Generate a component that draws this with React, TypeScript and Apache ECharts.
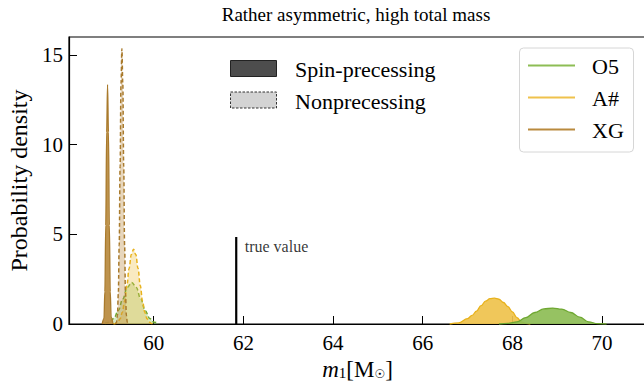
import React, { useEffect, useRef } from "react";
import * as echarts from "echarts";

// ---- data ----
const xTicks = [60, 62, 64, 66, 68, 70];
const yTicks = [0, 5, 10, 15];

// Spin-precessing
const o5SpinX = [67.7, 67.9, 68.1, 68.3, 68.5, 68.7, 68.9, 69.1, 69.3, 69.5, 69.7, 69.9, 70.1];
const o5SpinY = [0.0, 0.04, 0.12, 0.36, 0.64, 0.84, 0.89, 0.83, 0.64, 0.38, 0.12, 0.02, 0.0];
const aSpinX = [66.6, 66.8, 67.0, 67.1, 67.2, 67.3, 67.4, 67.5, 67.6, 67.7, 67.8, 67.9, 68.0, 68.1, 68.2, 68.3, 68.4];
const aSpinY = [0.0, 0.06, 0.3, 0.48, 0.72, 1.02, 1.27, 1.41, 1.44, 1.38, 1.2, 0.97, 0.68, 0.36, 0.12, 0.03, 0.0];
const xgSpinX = [58.85, 58.89, 58.91, 58.93, 58.95, 58.97, 58.99, 59.01, 59.03, 59.05, 59.09];
const xgSpinY = [0, 0.3, 1.8, 5.5, 10.7, 13.35, 10.7, 5.5, 1.8, 0.4, 0];

// Nonprecessing
const o5NonX = [58.91, 59.01, 59.11, 59.21, 59.31, 59.41, 59.51, 59.61, 59.71, 59.81, 59.91, 60.01, 60.11];
const o5NonY = [0.03, 0.1, 0.31, 0.75, 1.4, 2.04, 2.31, 2.04, 1.4, 0.75, 0.31, 0.1, 0.03];
const aNonX = [59.1, 59.15, 59.2, 59.25, 59.3, 59.35, 59.4, 59.45, 59.5, 59.55, 59.6, 59.65, 59.7, 59.75, 59.8, 59.85, 59.9, 59.95, 60.0];
const aNonY = [0, 0.03, 0.11, 0.29, 0.66, 1.28, 2.14, 3.1, 3.87, 4.17, 3.87, 3.1, 2.14, 1.28, 0.66, 0.29, 0.11, 0.03, 0];
const xgNonX = [59.15, 59.17, 59.19, 59.21, 59.23, 59.25, 59.27, 59.29, 59.31, 59.33, 59.35, 59.37, 59.39, 59.41, 59.43];
const xgNonY = [0, 0.1, 0.48, 1.67, 4.4, 8.8, 13.4, 15.35, 13.4, 8.8, 4.4, 1.67, 0.48, 0.1, 0];

const trueValueX = [61.84, 61.84];
const trueValueY = [0, 4.85];

const FONT = "Liberation Serif";
const C_O5 = { line: "#6fa832", fill: "#8dbd55" };
const C_A = { line: "#e8b21c", fill: "#efc24c" };
const C_XG = { line: "#a97a2c", fill: "#b98a3e" };

function pairs(xs: number[], ys: number[]) {
  return xs.map((x, i) => [x, ys[i]]);
}

export default function App() {
  const ref = useRef<HTMLDivElement>(null);
  useEffect(() => {
    if (!ref.current) return;
    const chart = echarts.init(ref.current, null, { renderer: "svg" });

    const spin = (name: string, xs: number[], ys: number[], c: { line: string; fill: string }, z: number) => ({
      type: "line",
      name,
      data: pairs(xs, ys),
      showSymbol: false,
      smooth: 0.4,
      smoothMonotone: "x",
      z,
      lineStyle: { color: c.line, width: 1.3 },
      areaStyle: { color: c.fill, opacity: 0.92 },
      silent: true,
    });
    const nonp = (name: string, xs: number[], ys: number[], c: { line: string; fill: string }, z: number) => ({
      type: "line",
      name,
      data: pairs(xs, ys),
      showSymbol: false,
      smooth: 0.4,
      smoothMonotone: "x",
      z,
      lineStyle: { color: c.line, width: 1.5, type: [4, 2.5] },
      areaStyle: { color: c.fill, opacity: 0.35 },
      silent: true,
    });

    const tickRich = { t: { fontFamily: FONT, fontSize: 21, color: "#000" } };

    const option: any = {
      animation: false,
      textStyle: { fontFamily: FONT },
      grid: {
        left: 69,
        top: 37,
        right: -2,
        bottom: 57,
        show: true,
        borderColor: "#000",
        borderWidth: 1.2,
        backgroundColor: "transparent",
        containLabel: false,
        outerBoundsMode: "none",
      },
      xAxis: {
        type: "value",
        min: 58.11,
        max: 70.98,
        name: "{m|m}{s|1}{b|[M}{o|☉}{b|]}",
        nameLocation: "middle",
        nameGap: 20,
        nameTextStyle: {
          lineHeight: 24,
          rich: {
            m: { fontFamily: FONT, fontStyle: "italic", fontSize: 23, lineHeight: 24, color: "#000" },
            s: { fontFamily: FONT, fontSize: 15, lineHeight: 16, color: "#000", padding: [7, 0, 0, 0] },
            b: { fontFamily: FONT, fontSize: 23, lineHeight: 24, color: "#000" },
            o: { fontFamily: "DejaVu Sans", fontSize: 12, lineHeight: 13, color: "#000", padding: [9, 0, 0, 0] },
          },
        },
        splitLine: { show: false },
        axisLine: { show: true, onZero: false, lineStyle: { color: "#000", width: 1.2 } },
        axisTick: { show: true, inside: true, length: 8, customValues: xTicks, lineStyle: { color: "#000", width: 1 } },
        axisLabel: {
          customValues: xTicks,
          formatter: (v: number) => `{t|${v}}`,
          rich: tickRich,
          margin: 8,
        },
      },
      yAxis: {
        type: "value",
        min: 0,
        max: 16,
        name: "{n|Probability density}",
        nameLocation: "middle",
        nameGap: 36,
        nameTextStyle: { rich: { n: { fontFamily: FONT, fontSize: 24, color: "#000" } } },
        splitLine: { show: false },
        axisLine: { show: true, lineStyle: { color: "#000", width: 1.2 } },
        axisTick: { show: true, inside: true, length: 8, customValues: yTicks, lineStyle: { color: "#000", width: 1 } },
        axisLabel: {
          customValues: yTicks,
          formatter: (v: number) => `{t|${v}}`,
          rich: tickRich,
          margin: 6,
        },
      },
      series: [
        nonp("O5 nonprecessing", o5NonX, o5NonY, C_O5, 2),
        nonp("A# nonprecessing", aNonX, aNonY, C_A, 3),
        nonp("XG nonprecessing", xgNonX, xgNonY, C_XG, 4),
        spin("A# spin-precessing", aSpinX, aSpinY, C_A, 5),
        spin("O5 spin-precessing", o5SpinX, o5SpinY, C_O5, 6),
        spin("XG spin-precessing", xgSpinX, xgSpinY, C_XG, 7),
        {
          type: "line",
          name: "true value",
          data: pairs(trueValueX, trueValueY),
          showSymbol: false,
          lineStyle: { color: "#000", width: 2.2 },
          z: 8,
          silent: true,
        },
        {
          type: "scatter",
          name: "true value label",
          data: [[trueValueX[1], trueValueY[1]]],
          symbolSize: 1,
          itemStyle: { color: "transparent" },
          label: {
            show: true,
            formatter: "true value",
            position: "right",
            distance: 8,
            offset: [0, 9],
            fontFamily: FONT,
            fontSize: 16,
            color: "#000",
          },
          z: 9,
          silent: true,
        },
      ],
      graphic: [
        // title
        { type: "text", x: 356, y: 14, style: { text: "Rather asymmetric, high total mass", font: `19px ${FONT}`, fill: "#000", align: "center", verticalAlign: "middle" } },
        // style legend
        { type: "rect", shape: { x: 230.5, y: 60.5, width: 46, height: 16 }, style: { fill: "#4d4d4d", stroke: "#222", lineWidth: 1 } },
        { type: "text", x: 295, y: 69, style: { text: "Spin-precessing", font: `22px ${FONT}`, fill: "#000", verticalAlign: "middle" } },
        { type: "rect", shape: { x: 230.5, y: 92, width: 46, height: 16 }, style: { fill: "#d3d3d3", stroke: "#333", lineWidth: 1, lineDash: [2.5, 1.5] } },
        { type: "text", x: 295, y: 101.5, style: { text: "Nonprecessing", font: `22px ${FONT}`, fill: "#000", verticalAlign: "middle" } },
        // model legend
        { type: "rect", shape: { x: 519.5, y: 48, width: 114, height: 104, r: 4 }, style: { fill: "rgba(255,255,255,0.85)", stroke: "#d6d6d6", lineWidth: 1 }, z: 100 },
        { type: "line", shape: { x1: 528, y1: 65.5, x2: 575, y2: 65.5 }, style: { stroke: C_O5.fill, lineWidth: 2 }, z: 101 },
        { type: "text", x: 592, y: 66, style: { text: "O5", font: `22px ${FONT}`, fill: "#000", verticalAlign: "middle" }, z: 101 },
        { type: "line", shape: { x1: 528, y1: 97.5, x2: 575, y2: 97.5 }, style: { stroke: C_A.fill, lineWidth: 2 }, z: 101 },
        { type: "text", x: 592, y: 98, style: { text: "A#", font: `22px ${FONT}`, fill: "#000", verticalAlign: "middle" }, z: 101 },
        { type: "line", shape: { x1: 528, y1: 129.5, x2: 575, y2: 129.5 }, style: { stroke: C_XG.fill, lineWidth: 2 }, z: 101 },
        { type: "text", x: 592, y: 130, style: { text: "XG", font: `22px ${FONT}`, fill: "#000", verticalAlign: "middle" }, z: 101 },
      ],
    };
    chart.setOption(option);
    return () => chart.dispose();
  }, []);
  return (
    <div
      ref={ref}
      style={{ position: "fixed", left: 0, top: 0, width: 644, height: 381, background: "#fff" }}
    />
  );
}
